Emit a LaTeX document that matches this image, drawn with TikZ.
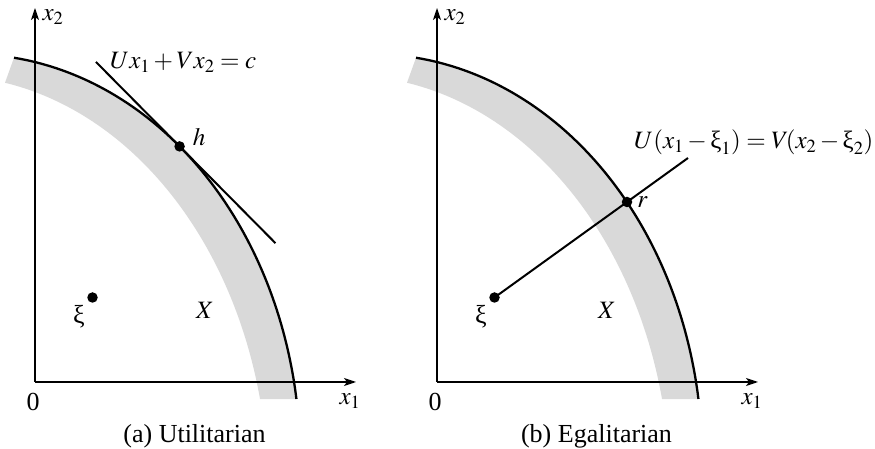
\documentclass[tikz,border=0pt]{standalone}
\usepackage{mathptmx}
\usepackage[no-math]{fontspec}
\setmainfont{Liberation Serif}
\usetikzlibrary{arrows.meta}
\definecolor{bandgray}{RGB}{217,217,217}
\begin{document}
\begin{tikzpicture}[x=1pt,y=1pt,
  axis/.style={line width=1.3pt,-{Stealth[length=12pt,width=8pt,inset=3pt]}},
  frontier/.style={line width=2.3pt},
  guide/.style={line width=2pt},
  dot/.style={circle,fill=black,inner sep=0pt,minimum size=10.5pt},
  lbl/.style={inner sep=0pt,font=\fontsize{26}{30}\selectfont},
  mlbl/.style={inner sep=0pt,font=\fontsize{25}{30}\selectfont},
  band/.style={fill=bandgray}]
\useasboundingbox (0,0) rectangle (875,449);
% ---------- panel (a) ----------
\begin{scope}[shift={(35,67)}]
  \fill[band] plot[domain=8.643:82.34,samples=90] ({-65+330.2*cos(\x)},{-78+405.9*sin(\x)})
     -- plot[domain=79.30:12.9,samples=90] ({-90+323.2*cos(\x)},{-110+416.5*sin(\x)}) -- cycle;
  \coordinate (Oa) at (0,0);
  \coordinate (Ya) at (0,374);
  \coordinate (Xa) at (321,0);
  \draw[axis] (Oa) -- (Ya);
  \draw[axis] (Oa) -- (Xa);
  \draw[frontier] plot[domain=8.643:82.34,samples=90] ({-65+330.2*cos(\x)},{-78+405.9*sin(\x)});
  \node[dot] (h) at (144.6,235.6) {};
  \coordinate (tA) at (60.9,320.1);
  \coordinate (tB) at (240.5,138.8);
  \draw[guide] (tA) -- (tB);
  \node[dot] (xia) at (57.5,84.5) {};
  \node[lbl] (xiLa) at (44,65) {ξ};
  \node[mlbl] (XLa) at (170,72) {$X$};
  \node[mlbl] (hL) at (164,244.5) {$h$};
  \node[mlbl,anchor=base west] (eqa) at (75,313.7) {$Ux_1 + Vx_2 = c$};
  \node[mlbl] (x2a) at (18,365) {$x_2$};
  \node[mlbl] (x1a) at (315,-19) {$x_1$};
  \node[lbl] (zeroa) at (-2,-20) {0};
  \node[lbl,anchor=base] (capa) at (159.5,-60.5) {(a) Utilitarian};
\end{scope}
% ---------- panel (b) ----------
\begin{scope}[shift={(437,67)}]
  \fill[band] plot[domain=8.643:82.34,samples=90] ({-65+330.2*cos(\x)},{-78+405.9*sin(\x)})
     -- plot[domain=79.30:12.9,samples=90] ({-90+323.2*cos(\x)},{-110+416.5*sin(\x)}) -- cycle;
  \coordinate (Ob) at (0,0);
  \coordinate (Yb) at (0,374);
  \coordinate (Xb) at (321,0);
  \draw[axis] (Ob) -- (Yb);
  \draw[axis] (Ob) -- (Xb);
  \draw[frontier] plot[domain=8.643:82.34,samples=90] ({-65+330.2*cos(\x)},{-78+405.9*sin(\x)});
  \node[dot] (xib) at (57.5,84.5) {};
  \node[dot] (r) at (190,180) {};
  \coordinate (rend) at (251,224);
  \draw[guide] (xib.center) -- (r.center) -- (rend);
  \node[lbl] (xiLb) at (44,65) {ξ};
  \node[mlbl] (XLb) at (170,72) {$X$};
  \node[mlbl] (rL) at (205.5,179.5) {$r$};
  \node[mlbl,anchor=base west] (eqb) at (197,233) {$U(x_1 - \mbox{ξ}_1) = V\!(x_2 - \mbox{ξ}_2)$};
  \node[mlbl] (x2b) at (18,365) {$x_2$};
  \node[mlbl] (x1b) at (315,-19) {$x_1$};
  \node[lbl] (zerob) at (-2,-20) {0};
  \node[lbl,anchor=base] (capb) at (159.5,-60.5) {(b) Egalitarian};
\end{scope}
\end{tikzpicture}
\end{document}
